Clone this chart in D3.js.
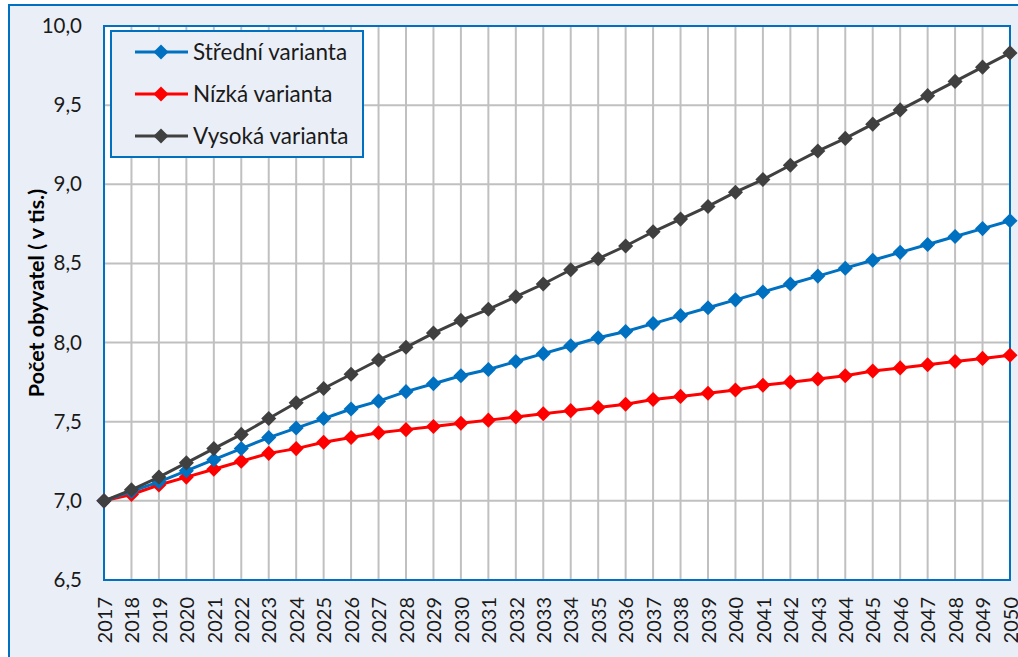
<!DOCTYPE html>
<html>
<head>
<meta charset="utf-8">
<script src="https://cdn.jsdelivr.net/npm/d3@7"></script>
<style>
  body { margin: 0; background: #ffffff; }
  svg { display: block; font-family: Lato, "Noto Sans", sans-serif; }
</style>
</head>
<body>
<svg width="1018" height="657"></svg>
<script>
let years = d3.range(2017, 2051)

let stredni = [7.00, 7.06, 7.12, 7.19, 7.26, 7.33, 7.40, 7.46, 7.52, 7.58, 7.63, 7.69, 7.74, 7.79, 7.83, 7.88, 7.93,
               7.98, 8.03, 8.07, 8.12, 8.17, 8.22, 8.27, 8.32, 8.37, 8.42, 8.47, 8.52, 8.57, 8.62, 8.67, 8.72, 8.77]
let nizka = [7.00, 7.04, 7.10, 7.15, 7.20, 7.25, 7.30, 7.33, 7.37, 7.40, 7.43, 7.45, 7.47, 7.49, 7.51, 7.53, 7.55,
             7.57, 7.59, 7.61, 7.64, 7.66, 7.68, 7.70, 7.73, 7.75, 7.77, 7.79, 7.82, 7.84, 7.86, 7.88, 7.90, 7.92]
let vysoka = [7.00, 7.07, 7.15, 7.24, 7.33, 7.42, 7.52, 7.62, 7.71, 7.80, 7.89, 7.97, 8.06, 8.14, 8.21, 8.29, 8.37,
              8.46, 8.53, 8.61, 8.70, 8.78, 8.86, 8.95, 9.03, 9.12, 9.21, 9.29, 9.38, 9.47, 9.56, 9.65, 9.74, 9.83]

let seriesNames = ["Střední varianta", "Nízká varianta", "Vysoká varianta"]
let seriesColors = ["#0070c0", "#ff0000", "#404040"]
let yTicks = [6.5, 7.0, 7.5, 8.0, 8.5, 9.0, 9.5, 10.0]
let yTitle = "Počet obyvatel ( v tis.)"

let series = [stredni, nizka, vysoka]

let plotLeft = 104, plotRight = 1010, plotTop = 26, plotBottom = 580

let svg = d3.select("svg")

// outer chart area
svg.append("rect")
    .attr("x", 9).attr("y", 5)
    .attr("width", 1040).attr("height", 700)
    .attr("fill", "#eaeff7")
    .attr("stroke", "#0070c0")
    .attr("stroke-width", 2)

let xScale = d3.scaleLinear().domain([2017, 2050]).range([plotLeft, plotRight])
let yScale = d3.scaleLinear().domain([6.5, 10]).range([plotBottom, plotTop])

svg.append("rect")
    .attr("x", plotLeft).attr("y", plotTop)
    .attr("width", plotRight - plotLeft).attr("height", plotBottom - plotTop)
    .attr("fill", "#ffffff")

// grid
svg.append("g")
    .selectAll("line")
    .data(years)
    .enter()
    .append("line")
    .attr("x1", d => xScale(d)).attr("x2", d => xScale(d))
    .attr("y1", plotTop).attr("y2", plotBottom)
    .attr("stroke", "#c0c0c0")
    .attr("stroke-width", 2)

svg.append("g")
    .selectAll("line")
    .data(yTicks)
    .enter()
    .append("line")
    .attr("x1", plotLeft).attr("x2", plotRight)
    .attr("y1", d => yScale(d)).attr("y2", d => yScale(d))
    .attr("stroke", "#c0c0c0")
    .attr("stroke-width", 2)

// y axis
let yAxis = d3.axisLeft(yScale)
    .tickValues(yTicks)
    .tickSize(0)
    .tickPadding(22)
    .tickFormat(d => d3.format(".1f")(d).replace(".", ","))

svg.append("g")
    .attr("transform", "translate(" + plotLeft + ",0)")
    .call(yAxis)
    .call(g => g.select(".domain").remove())
    .selectAll("text")
    .attr("font-size", 20.5)
    .attr("font-family", "Lato, 'Noto Sans', sans-serif")
    .attr("fill", "#1a1a1a")

// x axis
let xAxis = d3.axisBottom(xScale)
    .tickValues(years)
    .tickSize(0)
    .tickFormat(d3.format("d"))

svg.append("g")
    .attr("transform", "translate(0," + plotBottom + ")")
    .call(xAxis)
    .call(g => g.select(".domain").remove())
    .selectAll("text")
    .attr("font-size", 20)
    .attr("font-family", "Lato, 'Noto Sans', sans-serif")
    .attr("fill", "#1a1a1a")
    .attr("text-anchor", "end")
    .attr("transform", "rotate(-90)")
    .attr("x", -17)
    .attr("y", 0)
    .attr("dy", "0.36em")

// plot border
svg.append("rect")
    .attr("x", plotLeft).attr("y", plotTop)
    .attr("width", plotRight - plotLeft).attr("height", plotBottom - plotTop)
    .attr("fill", "none")
    .attr("stroke", "#0070c0")
    .attr("stroke-width", 2)

// y title
svg.append("text")
    .attr("transform", "translate(44,293) rotate(-90)")
    .attr("text-anchor", "middle")
    .attr("font-size", 21.5)
    .attr("font-weight", "bold")
    .attr("fill", "#000")
    .text(yTitle)

// lines
let line = d3.line()
    .x((d, i) => xScale(years[i]))
    .y(d => yScale(d))

let diamond = d3.symbol().type(d3.symbolDiamond2).size(145)

// high variant drawn last so it sits on top at the start
let order = [1, 0, 2]
order.forEach(k => {
    let g = svg.append("g")
    g.append("path")
        .datum(series[k])
        .attr("d", line)
        .attr("fill", "none")
        .attr("stroke", seriesColors[k])
        .attr("stroke-width", 3)
    g.selectAll("path.dot")
        .data(series[k])
        .enter()
        .append("path")
        .attr("class", "dot")
        .attr("d", diamond)
        .attr("transform", (d, i) => "translate(" + xScale(years[i]) + "," + yScale(d) + ")")
        .attr("fill", seriesColors[k])
})

// legend
let legend = svg.append("g")
legend.append("rect")
    .attr("x", 111).attr("y", 31)
    .attr("width", 252).attr("height", 126)
    .attr("fill", "#eaeff7")
    .attr("stroke", "#0070c0")
    .attr("stroke-width", 2)

seriesNames.forEach((name, i) => {
    let y = 52 + i * 42
    legend.append("line")
        .attr("x1", 135).attr("x2", 188)
        .attr("y1", y).attr("y2", y)
        .attr("stroke", seriesColors[i])
        .attr("stroke-width", 3)
    legend.append("path")
        .attr("d", diamond)
        .attr("transform", "translate(161," + y + ")")
        .attr("fill", seriesColors[i])
    legend.append("text")
        .attr("x", 193).attr("y", y)
        .attr("dy", "0.35em")
        .attr("font-size", 22.5)
        .attr("fill", "#1a1a1a")
        .text(name)
})
</script>
</body>
</html>
